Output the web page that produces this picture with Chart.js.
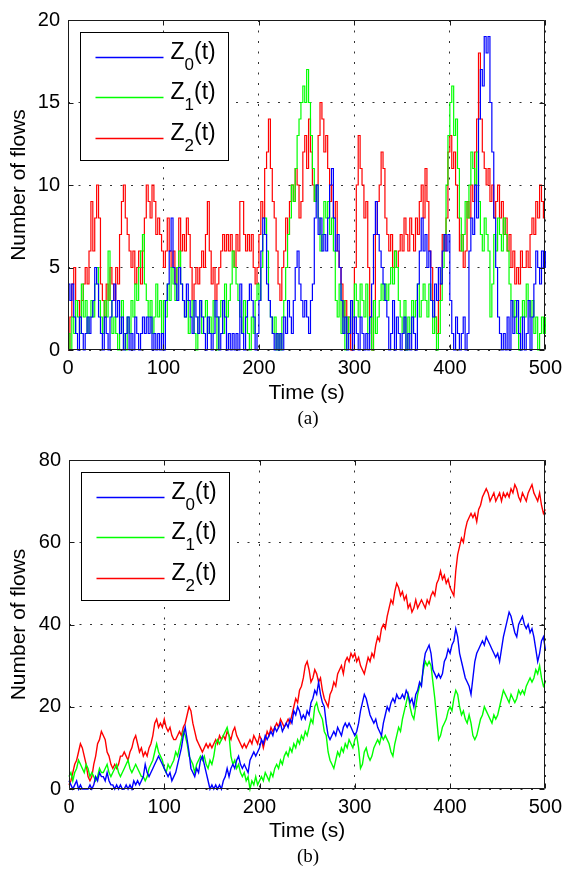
<!DOCTYPE html>
<html lang="en">
<head>
  <meta charset="UTF-8" />
  <title>Number of flows vs time</title>
  <script src="https://cdn.jsdelivr.net/npm/chart.js@4.4.0/dist/chart.umd.min.js"></script>
  <style>
    * { box-sizing: border-box; }
    body { margin: 0; background: #fff; }
    .page { position: relative; width: 568px; height: 871px; }
    .panel { position: absolute; left: 0; width: 568px; }
    #panelA { top: 0; height: 410px; }
    #panelB { top: 440px; height: 409px; }
    .caption {
      position: absolute;
      left: 258px;
      width: 100px;
      text-align: center;
      font-family: "Liberation Serif", "DejaVu Serif", serif;
      font-size: 19px;
      color: #000;
    }
  </style>
</head>
<body>
  <div class="page">
    <div class="panel" id="panelA"><canvas id="chartA" width="568" height="410"></canvas></div>
    <div class="caption" style="top:407px">(a)</div>
    <div class="panel" id="panelB"><canvas id="chartB" width="568" height="409"></canvas></div>
    <div class="caption" style="top:845px">(b)</div>
  </div>

  <script>
    /* ---- data: one sample every 2 s ---- */
    var timeStep = 2;
    var seriesNames  = ['Z_0(t)', 'Z_1(t)', 'Z_2(t)'];
    var seriesColors = ['#0000ff', '#00ff00', '#ff0000'];
    var timeTicks  = [0, 100, 200, 300, 400, 500];
    var flowTicksA = [0, 5, 10, 15, 20];
    var flowTicksB = [0, 20, 40, 60, 80];

    // (a) instantaneous flows
    var z0A = [4,3,4,2,1,0,2,1,0,1,2,1,2,3,5,4,2,1,0,2,1,0,2,3,4,
               2,3,1,2,0,1,2,0,1,0,2,1,0,1,2,1,2,1,2,0,1,0,1,0,1,
               0,3,4,6,8,5,4,3,5,4,3,2,4,3,2,1,3,2,1,3,2,1,0,2,1,
               0,1,3,2,0,1,3,2,0,1,0,1,0,1,0,4,1,0,2,3,4,3,2,0,1,
               3,6,8,7,4,3,2,1,0,1,0,1,0,2,1,3,2,1,3,5,6,4,3,2,3,
               2,1,3,4,8,10,7,8,6,7,6,8,10,11,8,6,7,5,3,1,2,0,1,3,0,
               2,1,0,2,1,0,1,0,2,4,7,9,7,6,5,4,3,2,0,1,3,0,2,1,0,
               1,2,0,1,0,2,1,0,4,6,8,6,7,5,6,3,2,4,3,5,4,6,7,6,7,
               3,1,0,2,1,0,1,2,0,1,6,8,7,10,8,14,17,16,19,18,19,15,12,8,5,
               2,1,0,1,0,2,0,3,1,2,3,1,0,2,0,1,3,0,2,4,6,5,4,6,5,6];
    var z1A = [1,0,2,1,3,2,1,4,2,3,1,2,3,2,4,5,3,2,1,3,2,6,3,1,2,
               1,0,2,3,1,0,2,1,3,2,4,3,5,6,7,4,3,2,3,1,2,4,2,3,1,
               3,2,4,3,5,4,3,5,6,4,3,2,3,1,2,3,1,0,2,3,1,2,3,1,2,
               1,3,2,0,2,3,1,4,2,3,4,6,5,4,3,2,1,3,2,1,0,2,1,3,4,
               3,5,7,8,6,3,2,1,2,0,1,0,2,3,5,7,8,10,9,11,13,14,15,16,15,
               17,15,13,11,9,10,8,6,7,9,8,9,7,8,6,3,2,4,1,3,0,2,1,3,2,
               4,3,2,4,3,2,4,1,2,0,3,1,2,3,4,3,4,3,4,5,4,6,5,3,2,
               1,3,0,2,1,3,2,3,4,2,3,4,3,2,4,3,1,2,0,1,3,5,7,10,13,
               15,16,13,14,11,8,6,7,9,8,10,12,11,10,12,9,7,6,8,7,6,2,4,7,6,
               8,7,6,8,7,6,4,3,2,3,1,0,2,3,2,4,3,2,3,1,2,0,1,2,1,2];
    var z2A = [0,2,4,5,3,3,2,3,4,5,4,6,9,6,8,10,8,4,3,2,4,3,5,4,3,
               5,4,7,9,10,8,7,6,5,6,4,5,6,4,6,8,10,9,8,10,9,7,8,7,6,
               5,6,8,6,5,6,4,5,8,6,7,6,8,7,5,3,4,5,4,5,6,5,7,9,6,
               4,5,3,4,5,6,7,6,7,6,7,6,5,7,6,9,9,7,6,7,6,7,5,4,5,
               7,9,8,11,12,14,11,9,8,6,4,3,5,6,8,7,9,10,9,11,10,8,9,12,13,
               11,14,12,10,9,10,13,15,14,12,13,11,9,10,8,9,6,5,4,2,3,1,2,0,1,
               5,10,13,11,10,8,9,5,2,0,3,7,9,10,12,11,8,7,6,7,5,6,5,6,7,
               6,8,7,6,8,7,6,8,7,9,10,8,11,9,6,5,3,2,1,3,4,7,6,8,12,
               13,11,12,10,8,6,7,5,6,9,8,10,9,12,14,18,14,12,11,10,11,9,10,8,9,
               10,8,9,7,8,6,7,5,6,4,5,4,6,5,5,6,5,7,8,7,9,8,10,9,8,8];

    // (b) cumulative flows
    var z0B = [2,1,0,1,2,0,1,0,0,0,0,1,0,1,3,2,4,3,3,2,4,2,1,1,0,
               1,0,1,0,0,1,0,1,0,2,1,2,1,2,3,6,4,3,4,5,6,7,8,7,6,
               5,4,3,4,2,3,4,6,8,10,13,15,12,9,5,4,3,5,4,7,8,6,4,2,0,
               1,0,1,0,1,0,2,3,5,3,5,6,5,7,8,6,5,6,5,4,7,8,9,8,9,
               10,12,11,13,12,13,14,13,15,14,15,16,14,15,16,15,17,16,19,18,20,19,17,18,17,
               19,18,21,22,24,23,26,23,21,20,16,13,12,13,14,13,15,14,13,15,16,15,16,15,14,
               13,14,16,19,21,23,22,20,18,17,16,17,15,14,13,16,18,20,19,21,22,21,23,22,22,
               23,22,24,23,21,22,20,23,24,26,25,30,33,34,35,33,29,28,27,28,27,28,31,32,34,
               33,35,36,39,37,33,31,29,27,26,25,23,27,31,33,34,35,36,35,37,36,35,34,33,32,
               33,31,34,37,39,41,43,42,40,38,37,40,41,42,40,39,40,38,39,37,34,31,33,36,37,34];
    var z1B = [3,4,2,4,5,7,6,5,4,6,5,3,4,3,2,3,5,4,4,5,6,4,3,4,5,
               6,4,3,4,5,6,7,5,4,5,6,5,4,3,3,2,3,5,6,7,9,11,9,8,7,
               5,4,6,5,6,7,9,8,10,12,14,13,11,8,7,6,4,6,7,8,7,8,6,5,7,
               6,8,11,12,11,12,13,14,15,13,8,6,7,5,6,4,3,4,2,3,0,2,1,3,1,
               2,3,2,4,3,2,4,3,5,6,5,7,6,8,9,8,10,9,11,10,12,11,13,12,14,
               13,15,17,16,20,21,19,18,17,14,13,9,7,6,5,7,9,8,10,9,11,10,12,11,10,
               12,13,10,5,6,9,10,8,7,8,10,11,12,11,13,12,13,12,11,9,8,11,13,15,14,
               17,19,21,23,20,18,17,20,23,25,26,29,31,30,31,30,26,22,17,12,13,15,16,17,19,
               20,19,22,24,23,20,18,19,17,16,18,16,13,12,13,15,17,18,20,19,18,17,16,18,17,
               18,20,22,24,23,22,21,23,22,21,22,24,23,24,23,25,26,27,26,27,29,28,30,27,25,26];
    var z2B = [1,2,4,6,7,9,11,10,8,6,3,2,3,6,8,11,12,14,13,12,9,8,6,5,6,
               5,6,8,8,9,8,7,9,10,12,13,11,9,10,8,9,8,10,11,13,16,17,15,16,15,
               17,15,14,15,13,12,12,13,14,13,15,16,18,20,19,16,14,12,11,10,9,10,11,10,11,
               10,11,12,11,13,12,13,12,14,13,12,14,15,13,12,11,10,11,10,11,12,11,13,12,11,
               13,12,10,12,14,13,15,14,15,16,15,17,16,15,16,17,16,18,20,22,21,24,25,27,30,
               31,29,26,27,29,28,26,27,24,22,21,20,23,24,26,25,28,29,30,28,31,32,31,33,32,
               33,31,32,30,29,28,30,32,31,33,32,35,37,36,39,40,39,42,44,46,45,48,50,49,47,
               48,46,47,44,45,43,44,46,44,45,46,45,44,46,45,47,48,47,50,51,53,51,52,50,51,
               49,48,47,53,57,59,61,60,63,65,66,67,66,67,65,68,69,71,72,73,72,70,71,72,70,
               71,72,70,72,71,72,71,73,72,74,73,71,70,72,71,70,72,73,74,72,71,70,72,69,67,68];

    var FONT = '"Liberation Sans", Arial, Helvetica, sans-serif';

    function toPoints(values) {
      return values.map(function (v, i) { return { x: i * timeStep, y: v }; });
    }

    /* Matlab-like frame: box, inward ticks on all sides, boxed legend */
    var matlabFrame = {
      id: 'matlabFrame',
      afterDatasetsDraw: function (chart) {
        var ctx = chart.ctx, a = chart.chartArea;
        var xs = chart.scales.x, ys = chart.scales.y;
        var L = Math.round(a.left) + 0.5, R = Math.round(a.right) - 0.5;
        var T = Math.round(a.top) + 0.5, B = Math.round(a.bottom) - 0.5;
        ctx.save();
        ctx.strokeStyle = '#1a1a1a';
        ctx.lineWidth = 1;
        ctx.beginPath();
        xs.ticks.forEach(function (t) {
          var px = Math.round(xs.getPixelForValue(t.value)) + 0.5;
          ctx.moveTo(px, B); ctx.lineTo(px, B - 5);
          ctx.moveTo(px, T); ctx.lineTo(px, T + 5);
        });
        ys.ticks.forEach(function (t) {
          var py = Math.round(ys.getPixelForValue(t.value)) + 0.5;
          ctx.moveTo(L, py); ctx.lineTo(L + 5, py);
          ctx.moveTo(R, py); ctx.lineTo(R - 5, py);
        });
        ctx.rect(L, T, R - L, B - T);
        ctx.stroke();

        // legend box
        var bx = Math.round(a.left) + 12.5, by = Math.round(a.top) + 12.5;
        var bw = 148, bh = 128;
        ctx.fillStyle = '#fff';
        ctx.fillRect(bx, by, bw, bh);
        ctx.strokeStyle = '#000';
        ctx.strokeRect(bx, by, bw, bh);
        ctx.textAlign = 'left';
        ctx.textBaseline = 'alphabetic';
        chart.data.datasets.forEach(function (ds, i) {
          var base = Math.round(by + 24 + i * 40.5) + 0.5;
          ctx.strokeStyle = ds.borderColor;
          ctx.lineWidth = 1.3;
          ctx.beginPath();
          ctx.moveTo(bx + 15, base);
          ctx.lineTo(bx + 83, base);
          ctx.stroke();

          var parts = ds.label.split('_');
          var x = bx + 90;
          ctx.fillStyle = '#000';
          ctx.font = '23px ' + FONT;
          ctx.fillText(parts[0], x, base + 1);
          x += ctx.measureText(parts[0]).width;
          ctx.font = '17px ' + FONT;
          ctx.fillText(parts[1].charAt(0), x, base + 12);
          x += ctx.measureText(parts[1].charAt(0)).width;
          ctx.font = '23px ' + FONT;
          ctx.fillText(parts[1].slice(1), x, base + 1);
        });
        ctx.restore();
      }
    };

    function makeChart(canvasId, series, yTicks, opt) {
      var datasets = series.map(function (vals, i) {
        return {
          label: seriesNames[i],
          data: toPoints(vals),
          borderColor: seriesColors[i],
          backgroundColor: seriesColors[i],
          borderWidth: opt.lineWidth,
          pointRadius: 0,
          stepped: opt.stepped,
          tension: 0,
          fill: false,
          clip: 3
        };
      });

      var gridStyle = { color: '#333', lineWidth: 1, drawTicks: false };
      var borderStyle = { display: false, dash: [2, 8.5] };

      return new Chart(document.getElementById(canvasId), {
        type: 'line',
        data: { datasets: datasets },
        plugins: [matlabFrame],
        options: {
          responsive: false,
          animation: false,
          events: [],
          layout: { padding: { top: 14, right: 20, left: 0, bottom: 0 } },
          plugins: { legend: { display: false }, tooltip: { enabled: false } },
          scales: {
            x: {
              type: 'linear',
              min: timeTicks[0],
              max: timeTicks[timeTicks.length - 1],
              grid: gridStyle,
              border: borderStyle,
              afterBuildTicks: function (s) {
                s.ticks = timeTicks.map(function (v) { return { value: v }; });
              },
              afterFit: function (s) { s.height = 60; },
              ticks: {
                color: '#000', padding: 6, maxRotation: 0, autoSkip: false,
                font: { family: FONT, size: 20, lineHeight: 1.2 }
              },
              title: {
                display: true, text: 'Time (s)', color: '#000',
                padding: { top: 0, bottom: opt.titleBottom },
                font: { family: FONT, size: 21, lineHeight: 1.2 }
              }
            },
            y: {
              min: yTicks[0],
              max: yTicks[yTicks.length - 1],
              grid: gridStyle,
              border: borderStyle,
              afterBuildTicks: function (s) {
                s.ticks = yTicks.map(function (v) { return { value: v }; });
              },
              afterFit: function (s) { s.width = opt.axisLeft; },
              ticks: {
                color: '#000', padding: 8, autoSkip: false,
                font: { family: FONT, size: 20, lineHeight: 1.2 }
              },
              title: {
                display: true, text: 'Number of flows', color: '#000',
                padding: { top: 7, bottom: 0 },
                font: { family: FONT, size: 21, lineHeight: 1.2 }
              }
            }
          }
        }
      });
    }

    makeChart('chartA', [z0A, z1A, z2A], flowTicksA,
              { stepped: 'before', lineWidth: 1.2, axisLeft: 68, titleBottom: 4 });
    makeChart('chartB', [z0B, z1B, z2B], flowTicksB,
              { stepped: false, lineWidth: 1.4, axisLeft: 69, titleBottom: 5 });
  </script>
</body>
</html>
